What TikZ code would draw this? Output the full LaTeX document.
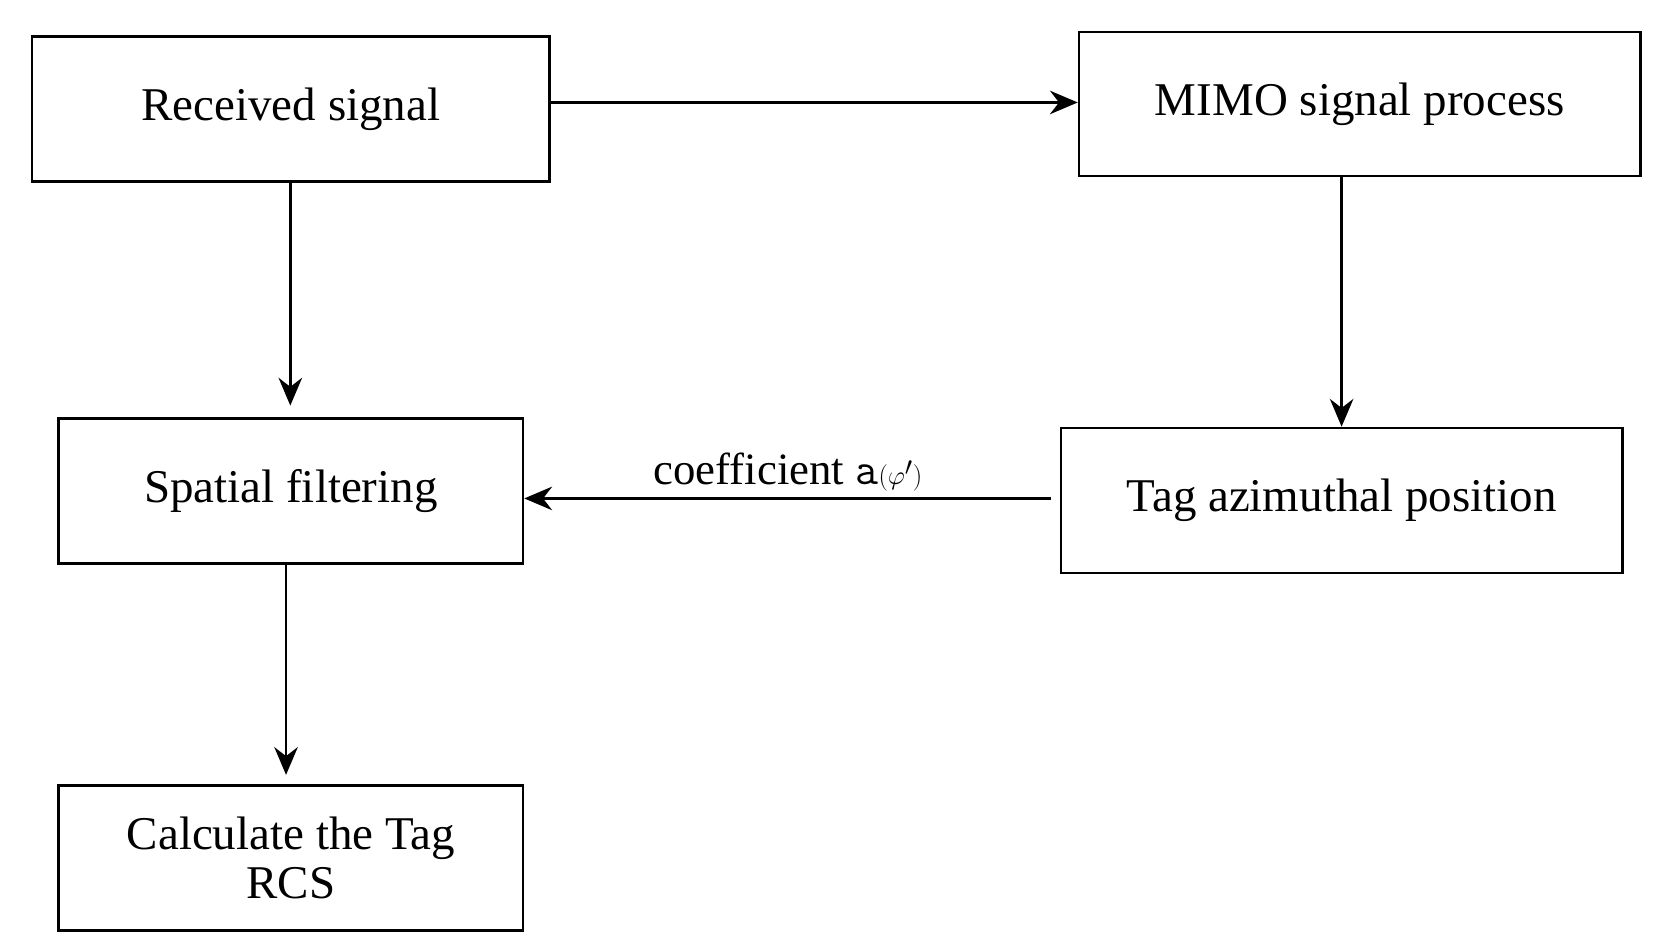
\documentclass[tikz,border=0pt]{standalone}
\usepackage{fontspec}
\setmainfont{Liberation Serif}
\usetikzlibrary{arrows.meta}
\begin{document}
\begin{tikzpicture}[x=1pt,y=-1pt,
  box/.style={draw,line width=2.5pt,inner sep=0pt,font=\fontsize{44}{50}\selectfont,align=center},
  arr/.style={line width=2.5pt,-{Stealth[length=26pt,width=22pt]}}]
\useasboundingbox (0,0) rectangle (1560,891);
\node[box,minimum width=485,minimum height=136] (rs) at (272.5,102) {Received signal};
\node[box,minimum width=526,minimum height=135] (mimo) at (1274,97.5) {MIMO signal process};
\node[box,minimum width=435,minimum height=136] (sf) at (272.5,460) {Spatial filtering};
\node[box,minimum width=526,minimum height=136] (tag) at (1257,469) {Tag azimuthal position};
\node[box,minimum width=435,minimum height=136] (calc) at (272.5,804) {Calculate the Tag\\[-4pt]RCS};
\coordinate (t1) at (272,380);
\coordinate (t2) at (268,726);
\coordinate (s3) at (985,467);
\draw[arr] (rs.east|-0,96) -- (mimo.west|-0,96);
\draw[arr] (272,170) -- (t1);
\draw[arr] (mimo.south-|1257,0) -- (tag.north-|1257,0);
\draw[arr] (s3) -- (sf.east|-s3) node[midway,above=2pt,font=\fontsize{42}{48}\selectfont] {coefficient $\mathtt{a}(\varphi')$};
\draw[arr] (268,528) -- (t2);
\end{tikzpicture}
\end{document}
